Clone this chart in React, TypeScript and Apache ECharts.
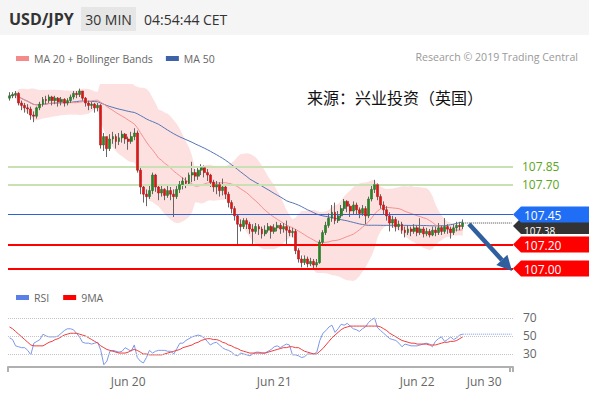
import React, { useEffect, useRef } from "react";
import * as echarts from "echarts";

// ---------- data ----------
const firstOpen = 108.42;
const closes = [
  108.44, 108.45, 108.46, 108.38, 108.36, 108.34, 108.33, 108.28, 108.27, 108.34,
  108.37, 108.41, 108.40, 108.43, 108.40, 108.42, 108.39, 108.41, 108.38, 108.40,
  108.43, 108.46, 108.45, 108.48, 108.42, 108.38, 108.36, 108.37, 108.34, 108.36,
  108.03, 108.10, 108.00, 108.08, 108.10, 108.06, 108.09, 108.12, 108.08, 108.06,
  108.10, 108.13, 107.82, 107.68, 107.62, 107.60, 107.65, 107.78, 107.68, 107.63,
  107.66, 107.61, 107.65, 107.62, 107.60, 107.66, 107.70, 107.73, 107.71, 107.78,
  107.80, 107.77, 107.82, 107.84, 107.80, 107.78, 107.72, 107.68, 107.70, 107.65,
  107.68, 107.62, 107.55, 107.50, 107.44, 107.37, 107.35, 107.40, 107.37, 107.33,
  107.31, 107.35, 107.33, 107.29, 107.32, 107.35, 107.31, 107.34, 107.36, 107.33,
  107.35, 107.32, 107.30, 107.31, 107.15, 107.08, 107.05, 107.08, 107.04, 107.06,
  107.03, 107.05, 107.22, 107.30, 107.36, 107.42, 107.47, 107.40, 107.44, 107.50,
  107.56, 107.52, 107.48, 107.53, 107.49, 107.46, 107.50, 107.44, 107.58, 107.66,
  107.70, 107.60, 107.53, 107.49, 107.44, 107.38, 107.41, 107.35, 107.37, 107.32,
  107.30, 107.33, 107.31, 107.34, 107.30, 107.33, 107.29, 107.31, 107.28, 107.32,
  107.30, 107.34, 107.31, 107.35, 107.33, 107.30, 107.34, 107.36, 107.35, 107.38,
];
const highs = [
  108.47, 108.47, 108.48, 108.47, 108.40, 108.38, 108.37, 108.35, 108.31, 108.35,
  108.39, 108.43, 108.44, 108.45, 108.44, 108.44, 108.43, 108.43, 108.42, 108.42,
  108.45, 108.48, 108.48, 108.50, 108.48, 108.43, 108.40, 108.39, 108.38, 108.38,
  108.37, 108.13, 108.08, 108.12, 108.14, 108.12, 108.13, 108.15, 108.13, 108.10,
  108.14, 108.17, 108.15, 107.84, 107.70, 107.66, 107.69, 107.80, 107.79, 107.70,
  107.70, 107.67, 107.69, 107.68, 107.66, 107.69, 107.73, 107.76, 107.76, 107.80,
  107.89, 107.83, 107.85, 107.87, 107.86, 107.83, 107.79, 107.74, 107.73, 107.72,
  107.75, 107.70, 107.64, 107.57, 107.52, 107.45, 107.41, 107.42, 107.42, 107.39,
  107.37, 107.38, 107.37, 107.35, 107.36, 107.38, 107.36, 107.37, 107.39, 107.38,
  107.38, 107.40, 107.35, 107.34, 107.33, 107.17, 107.11, 107.11, 107.10, 107.09,
  107.08, 107.08, 107.24, 107.32, 107.39, 107.46, 107.53, 107.55, 107.48, 107.53,
  107.58, 107.57, 107.54, 107.56, 107.55, 107.51, 107.53, 107.52, 107.60, 107.69,
  107.74, 107.71, 107.62, 107.56, 107.52, 107.47, 107.44, 107.43, 107.40, 107.39,
  107.35, 107.36, 107.35, 107.37, 107.36, 107.42, 107.35, 107.34, 107.33, 107.35,
  107.35, 107.38, 107.36, 107.42, 107.37, 107.35, 107.37, 107.39, 107.39, 107.41,
];
const lows = [
  108.40, 108.42, 108.42, 108.36, 108.32, 108.30, 108.29, 108.24, 108.22, 108.25,
  108.32, 108.35, 108.37, 108.38, 108.36, 108.37, 108.35, 108.36, 108.35, 108.36,
  108.38, 108.41, 108.42, 108.43, 108.40, 108.35, 108.32, 108.33, 108.30, 108.31,
  108.00, 107.98, 107.93, 107.98, 108.04, 108.00, 108.03, 108.05, 108.04, 107.99,
  108.04, 108.07, 107.80, 107.62, 107.55, 107.52, 107.58, 107.62, 107.64, 107.57,
  107.60, 107.57, 107.59, 107.57, 107.43, 107.58, 107.63, 107.66, 107.67, 107.70,
  107.72, 107.73, 107.74, 107.78, 107.76, 107.73, 107.68, 107.64, 107.62, 107.60,
  107.61, 107.58, 107.51, 107.46, 107.40, 107.20, 107.31, 107.33, 107.33, 107.29,
  107.20, 107.29, 107.28, 107.25, 107.27, 107.30, 107.25, 107.29, 107.31, 107.29,
  107.30, 107.20, 107.27, 107.26, 107.12, 107.05, 107.01, 107.03, 107.01, 107.02,
  107.00, 107.01, 107.04, 107.20, 107.28, 107.34, 107.39, 107.37, 107.38, 107.42,
  107.48, 107.47, 107.43, 107.45, 107.45, 107.42, 107.44, 107.37, 107.42, 107.56,
  107.63, 107.57, 107.50, 107.45, 107.40, 107.31, 107.34, 107.31, 107.32, 107.29,
  107.26, 107.28, 107.27, 107.29, 107.27, 107.28, 107.26, 107.27, 107.26, 107.27,
  107.27, 107.28, 107.28, 107.29, 107.29, 107.25, 107.28, 107.31, 107.32, 107.33,
];
const rsiValues = [
  48, 46, 39, 38, 37, 37, 34, 29, 42, 44,
  46, 52, 50, 49, 49, 49, 50, 53, 56, 58,
  58, 57, 53, 49, 43, 42, 42, 41, 42, 43,
  34, 18, 22, 33, 34, 33, 32, 33, 37, 35,
  33, 40, 26, 22, 20, 26, 34, 31, 33, 34,
  34, 34, 33, 33, 30, 36, 42, 42, 45, 47,
  49, 50, 51, 50, 48, 44, 40, 42, 43, 40,
  37, 35, 34, 32, 29, 28, 31, 30, 29, 28,
  30, 32, 32, 31, 31, 33, 35, 38, 39, 37,
  39, 41, 40, 29, 29, 28, 26, 27, 30, 30,
  30, 32, 45, 53, 56, 60, 62, 54, 58, 63,
  62, 64, 61, 58, 57, 55, 58, 60, 65, 68,
  70, 59, 56, 53, 50, 47, 46, 45, 42, 38,
  41, 40, 39, 39, 39, 40, 41, 42, 41, 38,
  44, 47, 49, 44, 46, 49, 46, 48, 51, 52,
];
const rsiMa9 = [
  60, 58, 55, 52, 49, 46, 43, 40, 39, 39,
  39, 39, 41, 43, 44, 46, 47, 49, 51, 52,
  53, 53, 53, 52, 51, 50, 48, 46, 44, 42,
  39, 37, 35, 34, 33, 32, 31, 31, 31, 32,
  34, 35, 34, 32, 30, 30, 29, 29, 29, 29,
  29, 30, 31, 32, 33, 34, 35, 37, 38, 39,
  40, 42, 43, 45, 46, 47, 47, 46, 46, 45,
  43, 42, 40, 39, 37, 36, 34, 33, 32, 31,
  31, 31, 31, 31, 31, 32, 33, 34, 35, 36,
  37, 37, 38, 38, 37, 37, 35, 33, 32, 31,
  30, 30, 33, 36, 40, 44, 48, 51, 54, 57,
  59, 60, 61, 61, 61, 61, 61, 61, 61, 61,
  61, 61, 60, 58, 56, 53, 51, 49, 47, 45,
  44, 43, 42, 42, 41, 41, 41, 41, 40, 40,
  40, 41, 42, 43, 43, 44, 44, 45, 47, 49,
];
const slotCount = 166;
const dateTickIndex = [39, 87, 134, 156];
const dateTickLabels = ["Jun 20", "Jun 21", "Jun 22", "Jun 30"];
const resistanceLevels = [107.85, 107.7];
const pivotLevel = 107.45;
const supportLevels = [107.2, 107.0];
const lastPrice = 107.38;
const rsiLevels = [30, 50, 70];

// ---------- helpers ----------
const opens = closes.map((_, i) => (i === 0 ? firstOpen : closes[i - 1]));
function windowStats(arr: number[], n: number) {
  return arr.map((_, i) => {
    const w = arr.slice(Math.max(0, i - n + 1), i + 1);
    const m = w.reduce((a, b) => a + b, 0) / w.length;
    const v = w.reduce((a, b) => a + (b - m) * (b - m), 0) / w.length;
    return { m, s: Math.sqrt(v) };
  });
}
const st20 = windowStats(closes, 20);
const ma20 = st20.map((d) => +d.m.toFixed(4));
const bbLower = st20.map((d) => +(d.m - 2 * d.s).toFixed(4));
const bbWidth = st20.map((d) => +(4 * d.s).toFixed(4));
const ma50 = windowStats(closes, 50).map((d) => +d.m.toFixed(4));

const FONT = "Open Sans";

export default function App() {
  const ref = useRef<HTMLDivElement>(null);
  useEffect(() => {
    const chart = echarts.init(ref.current!, null, { renderer: "svg" });
    const cats = Array.from({ length: slotCount }, (_, i) => String(i));
    const wickData = closes.map((c, i) => [opens[i], c, lows[i], highs[i]]);
    const bodyData = closes.map((c, i) => [opens[i], c, Math.min(opens[i], c), Math.max(opens[i], c)]);
    const last = closes.length - 1;

    const option: any = {
      animation: false,
      textStyle: { fontFamily: FONT },
      legend: [
        {
          data: [
            { name: "MA 20 + Bollinger Bands", icon: "rect" },
            { name: "MA 50", icon: "rect" },
          ],
          left: 11, top: 48, itemWidth: 13, itemHeight: 5, itemGap: 13,
          selectedMode: false,
          textStyle: { fontSize: 10.5, color: "#666", fontFamily: FONT },
        },
        {
          data: [
            { name: "RSI", icon: "rect" },
            { name: "9MA", icon: "rect" },
          ],
          left: 11, top: 287, itemWidth: 13, itemHeight: 5, itemGap: 14,
          selectedMode: false,
          textStyle: { fontSize: 10.5, color: "#666", fontFamily: FONT },
        },
      ],
      grid: [
        { left: 8, right: 76, top: 85, bottom: 114 },
        { left: 8, right: 76, top: 304.5, bottom: 27 },
      ],
      xAxis: [
        { type: "category", gridIndex: 0, data: cats, show: false, boundaryGap: true },
        {
          type: "category", gridIndex: 1, data: cats, boundaryGap: true,
          axisLine: { lineStyle: { color: "#b0b0b0", width: 2 } },
          axisTick: {
            show: true, length: 5, lineStyle: { color: "#b0b0b0", width: 2 },
            interval: (idx: number) => idx === 0 || idx === slotCount - 1,
          },
          axisLabel: {
            color: "#666", fontSize: 12, margin: 8, fontFamily: FONT,
            interval: (idx: number) => dateTickIndex.includes(idx),
            formatter: (_v: string, idx: number) => {
              const k = dateTickIndex.indexOf(idx);
              return k >= 0 ? dateTickLabels[k] : "";
            },
          },
          splitLine: { show: false },
        },
      ],
      yAxis: [
        { type: "value", gridIndex: 0, min: 106.905, max: 108.53, show: false, scale: true },
        {
          type: "value", gridIndex: 1, min: 15.5, max: 85, position: "right",
          axisLine: { show: false }, axisTick: { show: false }, splitLine: { show: false },
          axisLabel: { customValues: rsiLevels, color: "#666", fontSize: 12, margin: 10, fontFamily: FONT },
        },
      ],
      series: [
        {
          type: "line", xAxisIndex: 0, yAxisIndex: 0, data: bbLower, stack: "bb",
          symbol: "none", silent: true, lineStyle: { opacity: 0 }, z: 1,
        },
        {
          type: "line", xAxisIndex: 0, yAxisIndex: 0, data: bbWidth, stack: "bb",
          symbol: "none", silent: true, lineStyle: { opacity: 0 },
          areaStyle: { color: "#fde1e1", opacity: 1 }, z: 1,
        },
        {
          name: "MA 20 + Bollinger Bands", type: "line", xAxisIndex: 0, yAxisIndex: 0, data: ma20,
          symbol: "none", color: "#f48a8a", lineStyle: { width: 1, color: "#f59090" }, z: 3, silent: true,
        },
        {
          name: "MA 50", type: "line", xAxisIndex: 0, yAxisIndex: 0, data: ma50,
          symbol: "none", color: "#3d62a8", lineStyle: { width: 1, color: "#5575b5" }, z: 2, silent: true,
          markLine: {
            silent: true, symbol: ["none", "none"], label: { show: false },
            data: [
              ...resistanceLevels.map((v) => ({ yAxis: v, lineStyle: { color: "#c9e0b5", width: 2, type: "solid" } })),
              { yAxis: pivotLevel, lineStyle: { color: "#2f62d0", width: 1, type: "solid" } },
              ...supportLevels.map((v) => ({ yAxis: v, lineStyle: { color: "#ff0000", width: 2, type: "solid" } })),
            ],
          },
        },
        {
          type: "line", xAxisIndex: 0, yAxisIndex: 0,
          data: [[last, lastPrice], [slotCount - 1, lastPrice]],
          symbol: "none", silent: true, lineStyle: { color: "#444", width: 1, type: "dotted" }, z: 3,
        },
        {
          type: "candlestick", xAxisIndex: 0, yAxisIndex: 0, data: wickData, barWidth: 1, silent: true,
          itemStyle: { color: "#666", color0: "#666", borderColor: "#666", borderColor0: "#666", borderWidth: 1 },
          z: 4,
        },
        {
          type: "candlestick", xAxisIndex: 0, yAxisIndex: 0, data: bodyData, barWidth: 2.4, silent: true,
          itemStyle: {
            color: "#238a23", color0: "#e41414",
            borderColor: "#2a6e2a", borderColor0: "#b01818", borderWidth: 0.6,
          },
          z: 5,
        },
        {
          name: "RSI", type: "line", xAxisIndex: 1, yAxisIndex: 1, data: rsiValues,
          symbol: "none", color: "#5a7fe6", lineStyle: { width: 1, color: "#7d98ea" }, silent: true, z: 3,
          markLine: {
            silent: true, symbol: ["none", "none"], label: { show: false },
            data: rsiLevels.map((v) => ({ yAxis: v, lineStyle: { color: "#c4c4c4", width: 1, type: "dotted" } })),
          },
        },
        {
          name: "9MA", type: "line", xAxisIndex: 1, yAxisIndex: 1, data: rsiMa9,
          symbol: "none", color: "#ff0000", lineStyle: { width: 1, color: "#f03c3c" }, silent: true, z: 4,
        },
        {
          type: "line", xAxisIndex: 1, yAxisIndex: 1,
          data: [[last, rsiValues[last]], [slotCount - 1, rsiValues[last]]],
          symbol: "none", silent: true, lineStyle: { color: "#7d98ea", width: 1, type: "dotted" }, z: 3,
        },
      ],
    };
    chart.setOption(option);

    const yOf = (v: number) => chart.convertToPixel({ yAxisIndex: 0 }, v) as number;
    const tag = (v: number, fill: string, dy = 0, fs = 12, tdy = 0.5) => {
      const y = yOf(v) + dy;
      return [
        {
          type: "polygon", z: 20,
          shape: { points: [[513, y], [521, y - 8], [589, y - 8], [589, y + 8], [521, y + 8]] },
          style: { fill },
        },
        {
          type: "text", z: 21, x: 524, y: y + tdy,
          style: {
            text: v.toFixed(2), fill: "#fff", fontSize: fs, fontFamily: FONT,
            textAlign: "left", textVerticalAlign: "middle", align: "left", verticalAlign: "middle",
          },
        },
      ];
    };
    const greenTag = (v: number) => ({
      type: "text", z: 21, x: 522, y: yOf(v),
      style: {
        text: v.toFixed(2), fill: "#5aa61c", fontSize: 12, fontFamily: FONT,
        textAlign: "left", textVerticalAlign: "middle", align: "left", verticalAlign: "middle",
      },
    });
    const txt = (x: number, y: number, text: string, fontSize: number, fill: string, extra: any = {}) => ({
      type: "text", z: 30, x, y,
      style: {
        text, fill, fontSize, fontFamily: extra.family || FONT,
        textAlign: extra.align || "left", align: extra.align || "left",
        textVerticalAlign: "middle", verticalAlign: "middle",
        fontWeight: extra.weight || "normal",
      },
    });

    // arrow geometry
    const ax0 = 469, ay0 = 224, tipX = 512, tipY = 271;
    const dx = tipX - ax0, dy = tipY - ay0, len = Math.hypot(dx, dy);
    const ux = dx / len, uy = dy / len;
    const bx = tipX - ux * 15, by = tipY - uy * 15;
    const px = -uy * 7.5, py = ux * 7.5;

    const graphics: any[] = [
      { type: "rect", z: 0, shape: { x: 0, y: 0, width: 589, height: 35 }, style: { fill: "#f5f5f5" } },
      txt(9, 19, "USD/JPY", 16, "#333", { weight: "bold" }),
      { type: "rect", z: 25, shape: { x: 81, y: 7, width: 55, height: 24 }, style: { fill: "#e6e6e6" } },
      txt(108.5, 19, "30 MIN", 14, "#333", { align: "center" }),
      txt(144, 19, "04:54:44 CET", 14, "#333"),
      txt(578, 57, "Research © 2019 Trading Central", 10.6, "#999", { align: "right" }),
      txt(307, 97, "来源：兴业投资（英国）", 16, "#111", { family: "Noto Sans CJK SC" }),
      ...resistanceLevels.map(greenTag),
      ...tag(lastPrice, "#333333", 3, 10, 4.5),
      ...tag(pivotLevel, "#1f6ef5"),
      ...supportLevels.flatMap((v) => tag(v, "#ff0000")),
      {
        type: "line", z: 22,
        shape: { x1: ax0, y1: ay0, x2: bx, y2: by },
        style: { stroke: "#2f5f9e", lineWidth: 4.5 },
      },
      {
        type: "polygon", z: 22,
        shape: { points: [[tipX, tipY], [bx + px, by + py], [bx - px, by - py]] },
        style: { fill: "#2f5f9e" },
      },
    ];
    chart.setOption({ graphic: { elements: graphics } });

    return () => chart.dispose();
  }, []);

  return (
    <div
      ref={ref}
      style={{ position: "fixed", left: 0, top: 0, width: 589, height: 394, background: "#fff" }}
    />
  );
}
